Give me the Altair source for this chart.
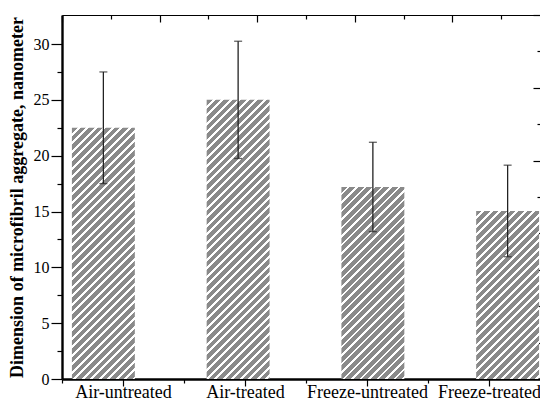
import json
import altair as alt
import pandas as pd

# ---- data ----
categories = ["Air-untreated", "Air-treated", "Freeze-untreated", "Freeze-treated"]
means = [22.5, 25.0, 17.2, 15.05]
errors = [5.0, 5.25, 4.0, 4.1]
left_ticks = [0, 2.5, 5, 7.5, 10, 12.5, 15, 17.5, 20, 22.5, 25, 27.5, 30]
cat_axis_ticks = [0, 0.5, 1, 1.5, 2, 2.5, 3, 3.5, 4]
frame_ticks = [0, 0.5, 1, 1.5, 2, 2.5, 3, 3.5, 4, 4.5, 5]

W, H = 488, 364
YMAX = 32.6
BAR_RANGE = [-26, 513]
P_INNER = 0.533
GRAY = "#8a8a8a"
FONT = "Liberation Serif"

df = pd.DataFrame({
    "cat": categories,
    "mean": means,
    "lo": [m - e for m, e in zip(means, errors)],
    "hi": [m + e for m, e in zip(means, errors)],
})

step = (BAR_RANGE[1] - BAR_RANGE[0]) / len(categories)
bar_w = step * (1 - P_INNER)


def stripe_grad(w, h, period=8.5, frac=0.68):
    n = (w + h) / period
    t = (w + h) / (w * w + h * h)
    stops = []
    k = 0
    while k / n < 1:
        a = k / n
        b = min((k + frac) / n, 1.0)
        c = min((k + 1) / n, 1.0)
        stops += [{"offset": a, "color": GRAY}, {"offset": b, "color": GRAY}]
        if b < 1.0:
            stops += [{"offset": b, "color": "#ffffff"}, {"offset": c, "color": "#ffffff"}]
        k += 1
    return {"gradient": "linear", "x1": 0, "y1": 0, "x2": w * t, "y2": h * t, "stops": stops}


xband = alt.X(
    "cat:N", sort=categories,
    scale=alt.Scale(domain=categories, range=BAR_RANGE,
                    paddingInner=P_INNER, paddingOuter=P_INNER / 2),
    axis=None,
)
yscale = alt.Scale(domain=[0, YMAX], nice=False, zero=True)
yaxis = alt.Axis(
    orient="left", values=left_ticks, grid=False,
    labelExpr="datum.value % 5 === 0 ? datum.label : ''",
    tickSize={"condition": {"test": "datum.value % 5 === 0", "value": 11}, "value": 5},
    tickWidth=1.2, domainWidth=2.4, labelFontSize=16, labelPadding=2,
    title="Dimension of microfibril aggregate, nanometer",
    titleFontSize=18, titleFontWeight="bold", titlePadding=7,
)

base = alt.Chart(df)
bar_layers = []
for i, c in enumerate(categories):
    h = means[i] / YMAX * H
    bar_layers.append(
        base.transform_filter(alt.datum.cat == c)
        .mark_bar(fill=stripe_grad(bar_w, h), stroke=None)
        .encode(x=xband, y=alt.Y("mean:Q", scale=yscale, axis=yaxis))
    )

rule = base.mark_rule(color="#222222", strokeWidth=1.3).encode(
    x=xband, y=alt.Y("lo:Q", scale=yscale, axis=yaxis), y2="hi:Q")
cap_lo = base.mark_tick(color="#222222", size=8, thickness=1.3).encode(
    x=xband, y=alt.Y("lo:Q", scale=yscale, axis=yaxis))
cap_hi = base.mark_tick(color="#222222", size=8, thickness=1.3).encode(
    x=xband, y=alt.Y("hi:Q", scale=yscale, axis=yaxis))

bars_group = alt.layer(*bar_layers, rule, cap_lo, cap_hi)

cat_js = json.dumps(categories)
label_layer = alt.Chart(pd.DataFrame({"t": cat_axis_ticks})).mark_point(opacity=0).encode(
    x=alt.X("t:Q", scale=alt.Scale(domain=[0, 4], nice=False, zero=False),
            axis=alt.Axis(
                orient="bottom", values=cat_axis_ticks, grid=False, title=None,
                labelExpr=f"(datum.value % 1 === 0.5) ? {cat_js}[floor(datum.value)] : ''",
                tickSize={"condition": {"test": "datum.value % 1 === 0.5", "value": 7}, "value": 4},
                tickWidth=1.2, domainWidth=2.4, labelFontSize=18, labelPadding=-3,
                labelFlush=False, labelOverlap=False,
            ))
)

frame_df = pd.DataFrame({"t": frame_ticks})
frame_layer = alt.Chart(frame_df).mark_point(opacity=0).encode(
    x=alt.X("t:Q", scale=alt.Scale(domain=[0, 5], nice=False, zero=False),
            axis=alt.Axis(orient="bottom", offset=-H, values=frame_ticks, grid=False,
                          title=None, labels=False, domainWidth=1,
                          tickSize={"condition": {"test": "datum.value % 1 === 0", "value": 7}, "value": 4},
                          tickWidth=1.2)),
    y=alt.Y("t:Q", scale=alt.Scale(domain=[0, 5], nice=False, zero=False),
            axis=alt.Axis(orient="left", offset=-(W - 10), values=frame_ticks, grid=False,
                          title=None, labels=False, domain=False,
                          tickSize={"condition": {"test": "datum.value % 1 === 0", "value": 7}, "value": 3},
                          tickWidth=1.2)),
)

chart = (
    alt.layer(bars_group, label_layer, frame_layer)
    .resolve_scale(x="independent", y="independent")
    .properties(width=W, height=H, autosize=alt.AutoSizeParams(type="none"),
                padding={"left": 54, "top": 7, "right": -10, "bottom": 22})
    .configure_view(stroke=None)
    .configure_axis(labelFont=FONT, titleFont=FONT, labelColor="black",
                    titleColor="black", tickColor="black", domainColor="black")
)

chart.save("out.html", embed_options={"renderer": "svg", "actions": False})
